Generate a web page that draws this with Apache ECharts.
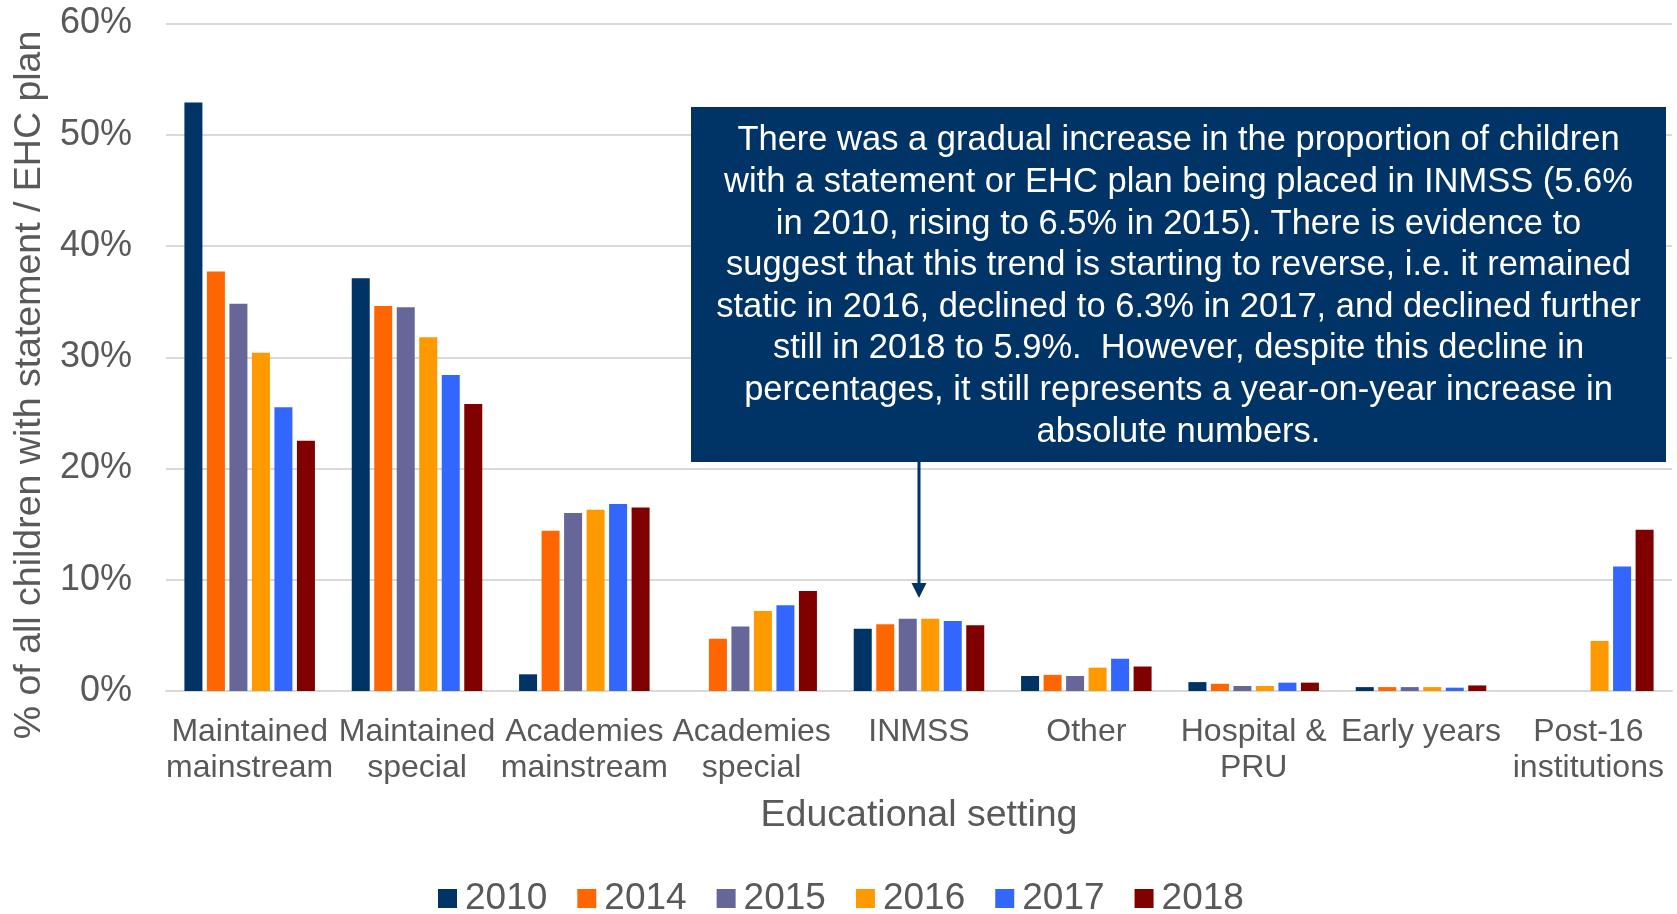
<!DOCTYPE html>
<html>
<head>
<meta charset="utf-8">
<style>
  html, body { margin: 0; padding: 0; background: #fff; }
  #chart { width: 1677px; height: 914px; }
</style>
<script src="https://cdn.jsdelivr.net/npm/echarts@6/dist/echarts.min.js"></script>
</head>
<body>
<div id="chart"></div>
<script>
// settings along the x axis
const settings = ['Maintained\nmainstream', 'Maintained\nspecial', 'Academies\nmainstream', 'Academies\nspecial',
  'INMSS', 'Other', 'Hospital &\nPRU', 'Early years', 'Post-16\ninstitutions']
const years = ['2010', '2014', '2015', '2016', '2017', '2018']
// % of children with statement / EHC plan, one list per year
const y2010 = [52.9, 37.1, 1.5, null, 5.6, 1.35, 0.8, 0.35, null]
const y2014 = [37.7, 34.6, 14.4, 4.7, 6.0, 1.45, 0.65, 0.35, null]
const y2015 = [34.8, 34.5, 16.0, 5.8, 6.5, 1.35, 0.45, 0.35, null]
const y2016 = [30.4, 31.8, 16.3, 7.2, 6.5, 2.1, 0.45, 0.35, 4.5]
const y2017 = [25.5, 28.4, 16.8, 7.7, 6.3, 2.9, 0.75, 0.3, 11.2]
const y2018 = [22.5, 25.8, 16.5, 9.0, 5.9, 2.2, 0.75, 0.5, 14.5]
const colors = ['#003366', '#FF6600', '#666699', '#FF9900', '#3366FF', '#800000']

const note = [
  'There was a gradual increase in the proportion of children',
  'with a statement or EHC plan being placed in INMSS (5.6%',
  'in 2010, rising to 6.5% in 2015). There is evidence to',
  'suggest that this trend is starting to reverse, i.e. it remained',
  'static in 2016, declined to 6.3% in 2017, and declined further',
  'still in 2018 to 5.9%.  However, despite this decline in',
  'percentages, it still represents a year-on-year increase in',
  'absolute numbers.'
].join('\n')

const font = 'Liberation Sans, Arial, sans-serif'
const grey = '#595959'
const values = [y2010, y2014, y2015, y2016, y2017, y2018]

const chart = echarts.init(document.getElementById('chart'))

const option = {
  animation: false,
  color: colors,
  textStyle: { fontFamily: font },
  grid: { left: 166, right: 5, top: 23.5, bottom: 223 },
  legend: {
    left: 433,
    top: 875,
    itemWidth: 19,
    itemHeight: 19,
    itemGap: 30,
    icon: 'rect',
    textStyle: { fontSize: 37, color: grey, fontFamily: font, padding: [0, 0, 0, 3] },
    data: years
  },
  xAxis: {
    type: 'category',
    data: settings,
    name: 'Educational setting',
    nameLocation: 'middle',
    nameGap: 106,
    nameTextStyle: { fontSize: 37.5, color: grey, fontFamily: font },
    axisLine: { lineStyle: { color: '#d9d9d9', width: 2 } },
    axisTick: { length: 10, lineStyle: { color: '#d9d9d9', width: 2 } },
    axisLabel: { fontSize: 32, color: grey, lineHeight: 36, margin: 23, interval: 0, fontFamily: font }
  },
  yAxis: {
    type: 'value',
    min: 0,
    max: 60,
    interval: 10,
    axisLine: { show: false },
    axisTick: { show: false },
    axisLabel: { formatter: '{value}%', fontSize: 36, color: grey, margin: 34, fontFamily: font },
    splitLine: { lineStyle: { color: '#d9d9d9', width: 2 } }
  },
  series: years.map((y, i) => ({
    name: y,
    type: 'bar',
    data: values[i],
    barGap: '25%',
    barCategoryGap: '22%'
  }))
}

chart.setOption(option)

// annotation box and arrow pointing at the INMSS group
const ax = chart.convertToPixel({ xAxisIndex: 0 }, 'INMSS')
chart.setOption({
  graphic: [
    {
      type: 'text',
      z: 100,
      rotation: Math.PI / 2,
      x: 30,
      y: 385,
      style: {
        text: '% of all children with statement / EHC plan',
        font: '37.5px ' + font,
        fill: grey,
        textAlign: 'center',
        textVerticalAlign: 'middle'
      }
    },
    {
      type: 'rect',
      z: 100,
      shape: { x: 691, y: 107, width: 975, height: 355 },
      style: { fill: '#003366' }
    },
    {
      type: 'text',
      z: 101,
      x: 1178.5,
      y: 286.5,
      style: {
        text: note,
        font: '34.5px ' + font,
        lineHeight: 41.6,
        fill: '#ffffff',
        textAlign: 'center',
        textVerticalAlign: 'middle'
      }
    },
    {
      type: 'line',
      z: 100,
      shape: { x1: ax, y1: 462, x2: ax, y2: 585 },
      style: { stroke: '#003366', lineWidth: 3 }
    },
    {
      type: 'polygon',
      z: 100,
      shape: { points: [[ax - 7.5, 583], [ax + 7.5, 583], [ax, 598]] },
      style: { fill: '#003366' }
    }
  ]
})
</script>
</body>
</html>
